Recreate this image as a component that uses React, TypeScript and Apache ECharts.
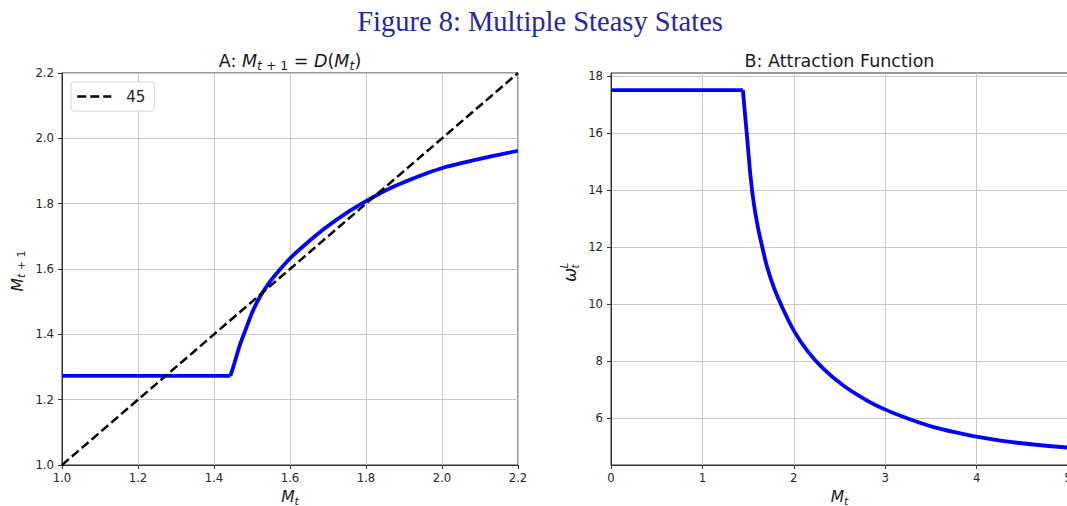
import React, { useEffect, useRef } from 'react';
import * as echarts from 'echarts';

// ---------- data ----------
const figureTitle = 'Figure 8: Multiple Steasy States';
const panelBTitle = 'B: Attraction Function';
const diagonalName = '45';

// Panel A: M_{t+1} = D(M_t)
const panelAMt = [1.0, 1.443, 1.451, 1.468, 1.486, 1.503, 1.521, 1.539, 1.565, 1.603, 1.644, 1.697, 1.749, 1.802, 1.854, 1.907, 1.96, 2.003, 2.065, 2.126, 2.2];
const panelAMtNext = [1.273, 1.273, 1.301, 1.367, 1.423, 1.474, 1.515, 1.548, 1.587, 1.636, 1.679, 1.729, 1.772, 1.809, 1.842, 1.869, 1.893, 1.91, 1.928, 1.944, 1.962];

// 45-degree line
const diagonalMt = [1.0, 2.2];
const diagonalValues = [1.0, 2.2];

// Panel B: attraction function omega_t^L
const panelBMt = [0, 1.443, 1.472, 1.497, 1.527, 1.563, 1.607, 1.655, 1.709, 1.781, 1.873, 2.0, 2.146, 2.328, 2.546, 2.802, 2.995, 3.239, 3.53, 3.822, 4.011, 4.441, 5.0];
const panelBOmega = [17.5, 17.5, 16.45, 15.55, 14.46, 13.52, 12.7, 12.0, 11.29, 10.59, 9.89, 9.07, 8.37, 7.72, 7.14, 6.62, 6.31, 6.0, 5.69, 5.47, 5.35, 5.14, 4.97];

// axis ranges / ticks
const panelAXRange = [1.0, 2.2];
const panelAYRange = [1.0, 2.2];
const panelATick = 0.2;
const panelBXRange = [0, 5];
const panelBXTick = 1;
const panelBYRange = [4.36, 18.1];
const panelBYTicks = [6, 8, 10, 12, 14, 16, 18];

const zip = (xs: number[], ys: number[]) => xs.map((x, i) => [x, ys[i]]);

const SPINE = '#333333';
const GRID = '#c8c8c8';
const TICKTXT = '#262626';
const SANS = 'DejaVu Sans';
const TICKFS = 11.7;

function axisCommon(extra: any) {
  return {
    type: 'value',
    axisLine: { show: true, onZero: false, lineStyle: { color: SPINE, width: 1 } },
    axisTick: { show: true, inside: false, length: 4, lineStyle: { color: SPINE, width: 1 } },
    splitLine: { show: true, lineStyle: { color: GRID, width: 1 } },
    ...extra,
  };
}

const mathRich = {
  n: { fontSize: 17.5, fontFamily: SANS, fill: '#1a1a1a' },
  i: { fontSize: 17.5, fontFamily: SANS, fontStyle: 'italic', fill: '#1a1a1a' },
  si: { fontSize: 12.5, fontFamily: SANS, fontStyle: 'italic', fill: '#1a1a1a', padding: [9, 0, 0, 0] },
  sn: { fontSize: 12.5, fontFamily: SANS, fill: '#1a1a1a', padding: [9, 0, 0, 0] },
};

const labelRich = {
  i: { fontSize: 15.5, fontFamily: SANS, fontStyle: 'italic', fill: '#1a1a1a' },
  si: { fontSize: 11, fontFamily: SANS, fontStyle: 'italic', fill: '#1a1a1a', padding: [8, 0, 0, 0] },
  sn: { fontSize: 11, fontFamily: SANS, fill: '#1a1a1a', padding: [8, 0, 0, 0] },
};

const blueLine = { color: '#0000ff', width: 3.8 };

export default function App() {
  const ref = useRef<HTMLDivElement>(null);
  useEffect(() => {
    if (!ref.current) return;
    const chart = echarts.init(ref.current, undefined, { renderer: 'svg' });
    const option: any = {
      animation: false,
      backgroundColor: '#ffffff',
      grid: [
        { left: 62, top: 73, width: 456, height: 392, show: true, borderColor: SPINE, borderWidth: 1, backgroundColor: 'transparent', containLabel: false, outerBoundsMode: 'none' },
        { left: 611, top: 73, width: 457, height: 392, show: true, borderColor: SPINE, borderWidth: 1, backgroundColor: 'transparent', containLabel: false, outerBoundsMode: 'none' },
      ],
      xAxis: [
        axisCommon({ gridIndex: 0, min: panelAXRange[0], max: panelAXRange[1], interval: panelATick,
          axisLabel: { color: TICKTXT, fontSize: TICKFS, fontFamily: SANS, margin: 7, formatter: (v: number) => v.toFixed(1) } }),
        axisCommon({ gridIndex: 1, min: panelBXRange[0], max: panelBXRange[1], interval: panelBXTick,
          axisLabel: { color: TICKTXT, fontSize: TICKFS, fontFamily: SANS, margin: 7, hideOverlap: false, formatter: (v: number) => String(Math.round(v)) } }),
      ],
      yAxis: [
        axisCommon({ gridIndex: 0, min: panelAYRange[0], max: panelAYRange[1], interval: panelATick,
          axisLabel: { color: TICKTXT, fontSize: TICKFS, fontFamily: SANS, margin: 8, formatter: (v: number) => v.toFixed(1) } }),
        axisCommon({ gridIndex: 1, min: panelBYRange[0], max: panelBYRange[1],
          axisTick: { show: true, inside: false, length: 4, lineStyle: { color: SPINE, width: 1 }, customValues: panelBYTicks },
          axisLabel: { color: TICKTXT, fontSize: TICKFS, fontFamily: SANS, margin: 8, customValues: panelBYTicks,
            formatter: (v: number) => String(Math.round(v)) } }),
      ],
      legend: {
        data: [diagonalName],
        left: 71, top: 82,
        itemWidth: 34, itemHeight: 14,
        padding: [7, 9, 7, 5],
        backgroundColor: '#ffffff',
        borderColor: '#d5d5d5', borderWidth: 1, borderRadius: 3,
        selectedMode: false,
        textStyle: { fontSize: 15, fontFamily: SANS, color: TICKTXT, padding: [0, 0, 0, 10] },
        itemStyle: { opacity: 0, color: 'rgba(0,0,0,0)', borderWidth: 0 },
        lineStyle: { width: 2.5, type: [9, 4], color: '#000000', opacity: 1 },
      },
      series: [
        {
          type: 'line', name: 'D flat', xAxisIndex: 0, yAxisIndex: 0,
          data: zip(panelAMt, panelAMtNext).slice(0, 2), symbol: 'none', silent: true,
          lineStyle: blueLine, z: 2,
        },
        {
          type: 'line', name: 'D', xAxisIndex: 0, yAxisIndex: 0,
          data: zip(panelAMt, panelAMtNext).slice(1), symbol: 'none', silent: true, smooth: 0.35,
          lineStyle: blueLine, z: 2,
        },
        {
          type: 'line', name: diagonalName, xAxisIndex: 0, yAxisIndex: 0,
          data: zip(diagonalMt, diagonalValues), symbol: 'none', silent: true,
          itemStyle: { color: '#000000' },
          lineStyle: { color: '#000000', width: 2.5, type: [9, 4] }, z: 3,
        },
        {
          type: 'line', name: 'omega flat', xAxisIndex: 1, yAxisIndex: 1,
          data: zip(panelBMt, panelBOmega).slice(0, 2), symbol: 'none', silent: true,
          lineStyle: blueLine, z: 2,
        },
        {
          type: 'line', name: 'omega', xAxisIndex: 1, yAxisIndex: 1,
          data: zip(panelBMt, panelBOmega).slice(1), symbol: 'none', silent: true, smooth: 0.35,
          lineStyle: blueLine, z: 2,
        },
      ],
      graphic: [
        { type: 'text', x: 540, y: 21, silent: true,
          style: { text: figureTitle, fontSize: 28.5, fontFamily: 'Liberation Serif', fill: '#2626a8', align: 'center', verticalAlign: 'middle' } },
        { type: 'text', x: 290, y: 61, silent: true,
          style: { text: '{n|A: }{i|M}{si|t}{sn| + 1}{n| = }{i|D}{n|(}{i|M}{si|t}{n|)}', rich: mathRich, align: 'center', verticalAlign: 'middle' } },
        { type: 'text', x: 839.5, y: 61, silent: true,
          style: { text: panelBTitle, fontSize: 17.5, fontFamily: SANS, fill: '#1a1a1a', align: 'center', verticalAlign: 'middle' } },
        { type: 'text', x: 290, y: 497, silent: true,
          style: { text: '{i|M}{si|t}', rich: labelRich, align: 'center', verticalAlign: 'middle' } },
        { type: 'text', x: 839.5, y: 497, silent: true,
          style: { text: '{i|M}{si|t}', rich: labelRich, align: 'center', verticalAlign: 'middle' } },
        { type: 'text', x: 17.5, y: 271, rotation: Math.PI / 2, silent: true,
          style: { text: '{i|M}{si|t}{sn| + 1}', rich: labelRich, align: 'center', verticalAlign: 'middle' } },
        { type: 'group', x: 570, y: 272, rotation: Math.PI / 2, silent: true,
          children: [
            { type: 'text', x: -10, y: 0, style: { text: 'ω', fontSize: 17, fontFamily: SANS, fontStyle: 'italic', fill: '#1a1a1a', align: 'left', verticalAlign: 'middle' } },
            { type: 'text', x: 3.5, y: -6, style: { text: 'L', fontSize: 10.5, fontFamily: SANS, fontStyle: 'italic', fill: '#1a1a1a', align: 'left', verticalAlign: 'middle' } },
            { type: 'text', x: 3.5, y: 5, style: { text: 't', fontSize: 10.5, fontFamily: SANS, fontStyle: 'italic', fill: '#1a1a1a', align: 'left', verticalAlign: 'middle' } },
          ] },
      ],
    };
    chart.setOption(option);
    return () => chart.dispose();
  }, []);
  return <div ref={ref} style={{ position: 'fixed', left: 0, top: 0, width: 1067, height: 506, background: '#fff' }} />;
}
